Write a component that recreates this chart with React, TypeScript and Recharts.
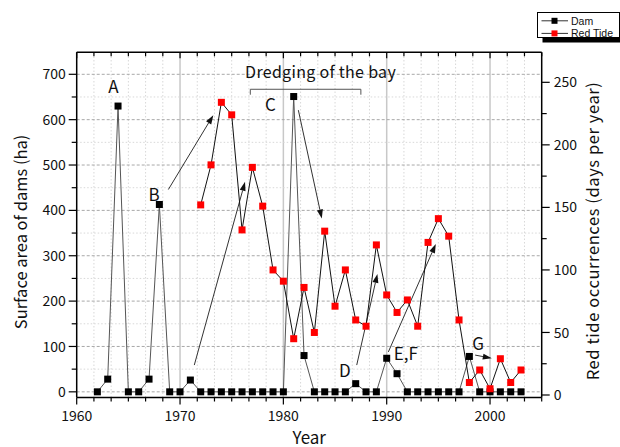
import React from 'react';
import {
  ComposedChart,
  Line,
  XAxis,
  YAxis,
  ReferenceLine,
  ReferenceDot,
  Legend,
  Label,
} from 'recharts';

const FONT = '"Noto Sans CJK JP", "Noto Sans", sans-serif';
const LEGEND_FONT = '"Liberation Sans", Arial, sans-serif';

// ---------- data ----------
const YEARS = [
  1962, 1963, 1964, 1965, 1966, 1967, 1968, 1969, 1970, 1971,
  1972, 1973, 1974, 1975, 1976, 1977, 1978, 1979, 1980, 1981,
  1982, 1983, 1984, 1985, 1986, 1987, 1988, 1989, 1990, 1991,
  1992, 1993, 1994, 1995, 1996, 1997, 1998, 1999, 2000, 2001,
  2002, 2003,
];
const DAM_AREA = [
  0, 28, 630, 0, 0, 28, 413, 0, 0, 26,
  0, 0, 0, 0, 0, 0, 0, 0, 0, 651,
  80, 0, 0, 0, 0, 18, 0, 0, 74, 40,
  0, 0, 0, 0, 0, 0, 78, 0, 0, 0,
  0, 0,
];
const RED_TIDE = [
  null, null, null, null, null, null, null, null, null, null,
  152, 184, 234, 224, 132, 182, 151, 100, 91, 45,
  86, 50, 131, 71, 100, 60, 55, 120, 80, 66,
  76, 55, 122, 141, 127, 60, 10, 20, 5, 29,
  10, 20,
];

const SERIES_NAMES = ['Dam', 'Red Tide'];
const X_LABEL_TICKS = [1960, 1970, 1980, 1990, 2000];
const X_DOMAIN = [1960, 2005];
const X_SUBDIVISIONS = 6; // ticks per decade
const X_ALL_TICKS = Array.from({ length: 28 }, (_, k) => 1960 + (k * 10) / X_SUBDIVISIONS);
const LEFT_TICKS = [0, 50, 100, 150, 200, 250, 300, 350, 400, 450, 500, 550, 600, 650, 700];
const LEFT_DOMAIN = [-12.5, 748.5];
const RIGHT_TICKS = [0, 25, 50, 75, 100, 125, 150, 175, 200, 225, 250];
const RIGHT_DOMAIN = [-2, 274];

// annotations, in (year, left-axis value) units
const NOTE_TEXT = ['A', 'B', 'C', 'D', 'E,F', 'G'];
const NOTE_YEAR = [1963.55, 1967.5, 1978.76, 1985.94, 1991.86, 1998.85];
const NOTE_VALUE = [671, 433, 632, 46, 84, 105];

const ARROW_FROM_YEAR = [1968.87, 1971.38, 1981.45, 1987.1, 1990.16, 1998.56];
const ARROW_FROM_VALUE = [446, 59, 621, 59, 88, 81];
const ARROW_TO_YEAR = [1973.22, 1976.29, 1983.72, 1989.1, 1994.75, 2000.17];
const ARROW_TO_VALUE = [610, 463, 382, 260, 326, 74];

const DREDGING_LABEL = 'Dredging of the bay';
const DREDGING_LABEL_YEAR = 1983.6;
const DREDGING_LABEL_VALUE = 705;
const DREDGING_START = 1976.8;
const DREDGING_END = 1987.5;
const DREDGING_LEVEL = 667;
const DREDGING_TICK_END = 655;

const data = YEARS.map((year, i) => ({ year, dam: DAM_AREA[i], redTide: RED_TIDE[i] }));

const isMajorX = (v: number) => Math.abs(v - Math.round(v / 10) * 10) < 1e-6;

// ---------- custom pieces ----------
const BottomTick = (p: any) => {
  const { x, y, payload } = p;
  const v = payload.value;
  const major = isMajorX(v);
  return (
    <g>
      <line x1={x} x2={x} y1={y} y2={y + (major ? 7 : 4)} stroke="#000" strokeWidth={1.2} />
      {major && X_LABEL_TICKS.includes(Math.round(v)) ? (
        <text x={x} y={y + 23} textAnchor="middle" fontSize={14} fontFamily={FONT} fill="#111">
          {Math.round(v)}
        </text>
      ) : null}
    </g>
  );
};

const TopTick = (p: any) => {
  const { x, y, payload } = p;
  const major = isMajorX(payload.value);
  return <line x1={x} x2={x} y1={y} y2={y + (major ? 6 : 4)} stroke="#000" strokeWidth={1.2} />;
};

const LeftTick = (p: any) => {
  const { x, y, payload } = p;
  const v = payload.value;
  const major = v % 100 === 0;
  return (
    <g>
      <line x1={x} x2={x - (major ? 8 : 5)} y1={y} y2={y} stroke="#000" strokeWidth={1.2} />
      {major ? (
        <text x={x - 11} y={y} dy="0.36em" textAnchor="end" fontSize={14} fontFamily={FONT} fill="#111">
          {v}
        </text>
      ) : null}
    </g>
  );
};

const RightTick = (p: any) => {
  const { x, y, payload } = p;
  const v = payload.value;
  const major = v % 50 === 0;
  return (
    <g>
      <line x1={x} x2={x + (major ? 8 : 5)} y1={y} y2={y} stroke="#000" strokeWidth={1.2} />
      {major ? (
        <text x={x + 12} y={y} dy="0.36em" textAnchor="start" fontSize={14} fontFamily={FONT} fill="#111">
          {v}
        </text>
      ) : null}
    </g>
  );
};

const SquareDot = (fill: string) => (p: any) => {
  const { cx, cy, index } = p;
  if (cx == null || cy == null || p.value == null) return <g key={`e-${index}`} />;
  const s = 7;
  return <rect key={`d-${index}`} x={cx - s / 2} y={cy - s / 2} width={s} height={s} fill={fill} />;
};

const ArrowShape = (p: any) => {
  const { x1, y1, x2, y2 } = p;
  const dx = x2 - x1;
  const dy = y2 - y1;
  const len = Math.hypot(dx, dy) || 1;
  const ux = dx / len;
  const uy = dy / len;
  const hl = 9;
  const hw = 3;
  const bx = x2 - ux * hl;
  const by = y2 - uy * hl;
  return (
    <g>
      <line x1={x1} y1={y1} x2={bx} y2={by} stroke="#333" strokeWidth={1} />
      <polygon
        points={`${x2},${y2} ${bx - uy * hw},${by + ux * hw} ${bx + uy * hw},${by - ux * hw}`}
        fill="#111"
      />
    </g>
  );
};

const LeftTitle = (p: any) => {
  const vb = p.viewBox;
  const cx = vb.x + 4;
  const cy = vb.y + vb.height / 2 + 7;
  return (
    <text
      x={cx}
      y={cy}
      transform={`rotate(-90 ${cx} ${cy})`}
      textAnchor="middle"
      dy="0.36em"
      fontSize={16.5}
      fontFamily={FONT}
      fill="#111"
    >
      Surface area of dams (ha)
    </text>
  );
};

const RightTitle = (p: any) => {
  const vb = p.viewBox;
  const cx = vb.x + 51;
  const cy = vb.y + vb.height / 2 + 6;
  return (
    <text
      x={cx}
      y={cy}
      transform={`rotate(-90 ${cx} ${cy})`}
      textAnchor="middle"
      dy="0.36em"
      fontSize={16.5}
      letterSpacing={0.6}
      fontFamily={FONT}
      fill="#111"
    >
      Red tide occurrences (days per year)
    </text>
  );
};

const BottomTitle = (p: any) => {
  const vb = p.viewBox;
  return (
    <text x={vb.x + vb.width / 2} y={vb.y + 46} textAnchor="middle" fontSize={17} fontFamily={FONT} fill="#111">
      Year
    </text>
  );
};

const LegendBox = (props: any) => {
  const payload = props.payload || [];
  const fills: Record<string, string> = { dam: '#000', redTide: '#ff0000' };
  return (
    <svg width={92} height={34} style={{ display: 'block', overflow: 'visible' }}>
      <rect x={5.5} y={5.5} width={82} height={25} fill="#000" />
      <rect x={0.5} y={0.5} width={82} height={25} fill="#fff" stroke="#000" strokeWidth={1} />
      {payload.map((entry: any, i: number) => {
        const cy = 8.8 + i * 12.6;
        const key = entry.dataKey as string;
        return (
          <g key={entry.value}>
            <line x1={4.5} x2={31} y1={cy} y2={cy} stroke="#333" strokeWidth={1} />
            <rect x={14.5} y={cy - 3} width={6} height={6} fill={fills[key] || '#000'} />
            <text x={34} y={cy} dy="0.36em" fontSize={10.5} fontFamily={LEGEND_FONT} fill="#111">
              {entry.value}
            </text>
          </g>
        );
      })}
    </svg>
  );
};

export default function App() {
  const vGrid = X_ALL_TICKS.filter((v) => v > X_DOMAIN[0] + 1e-6 && v < X_DOMAIN[1] - 1e-6);
  return (
    <div style={{ position: 'absolute', left: 0, top: 0, width: 620, height: 447, background: '#fff' }}>
      <ComposedChart
        width={620}
        height={447}
        data={data}
        margin={{ top: 22.3, right: 18.3, bottom: 19.5, left: 16.7 }}
      >
        <XAxis
          xAxisId="x"
          dataKey="year"
          type="number"
          orientation="bottom"
          domain={X_DOMAIN}
          allowDataOverflow
          ticks={X_ALL_TICKS}
          interval={0}
          height={30}
          tickSize={0}
          tickMargin={0}
          tickLine={false}
          axisLine={{ stroke: '#000', strokeWidth: 1.5 }}
          tick={(p: any) => <BottomTick {...p} />}
        >
          <Label content={(p: any) => <BottomTitle {...p} />} />
        </XAxis>
        <XAxis
          xAxisId="top"
          dataKey="year"
          type="number"
          orientation="top"
          domain={X_DOMAIN}
          allowDataOverflow
          ticks={X_ALL_TICKS}
          interval={0}
          height={30}
          tickSize={0}
          tickMargin={0}
          tickLine={false}
          axisLine={{ stroke: '#000', strokeWidth: 1.5 }}
          tick={(p: any) => <TopTick {...p} />}
        />
        <YAxis
          yAxisId="left"
          orientation="left"
          type="number"
          domain={LEFT_DOMAIN}
          allowDataOverflow
          ticks={LEFT_TICKS}
          interval={0}
          width={60}
          tickSize={0}
          tickMargin={0}
          tickLine={false}
          axisLine={{ stroke: '#000', strokeWidth: 1.5 }}
          tick={(p: any) => <LeftTick {...p} />}
        >
          <Label content={(p: any) => <LeftTitle {...p} />} />
        </YAxis>
        <YAxis
          yAxisId="right"
          orientation="right"
          type="number"
          domain={RIGHT_DOMAIN}
          allowDataOverflow
          ticks={RIGHT_TICKS}
          interval={0}
          width={60}
          tickSize={0}
          tickMargin={0}
          tickLine={false}
          axisLine={{ stroke: '#000', strokeWidth: 1.5 }}
          tick={(p: any) => <RightTick {...p} />}
        >
          <Label content={(p: any) => <RightTitle {...p} />} />
        </YAxis>

        {/* grid */}
        {vGrid.map((v) => (
          <ReferenceLine
            key={`vg-${v}`}
            xAxisId="x"
            yAxisId="left"
            x={v}
            stroke={isMajorX(v) ? '#c8c8c8' : '#d8d8d8'}
            strokeWidth={isMajorX(v) ? 1.5 : 1}
            strokeDasharray={isMajorX(v) ? undefined : '1.5 2'}
          />
        ))}
        {LEFT_TICKS.map((v) => (
          <ReferenceLine
            key={`hg-${v}`}
            xAxisId="x"
            yAxisId="left"
            y={v}
            stroke={v % 100 === 0 ? '#a8a8a8' : '#d8d8d8'}
            strokeWidth={1}
            strokeDasharray={v % 100 === 0 ? '3 2' : '1.5 2'}
          />
        ))}

        {/* dredging bracket */}
        <ReferenceLine
          xAxisId="x"
          yAxisId="left"
          segment={[
            { x: DREDGING_START, y: DREDGING_LEVEL },
            { x: DREDGING_END, y: DREDGING_LEVEL },
          ]}
          stroke="#555"
          strokeWidth={1}
        />
        <ReferenceLine
          xAxisId="x"
          yAxisId="left"
          segment={[
            { x: DREDGING_START, y: DREDGING_LEVEL },
            { x: DREDGING_START, y: DREDGING_TICK_END },
          ]}
          stroke="#555"
          strokeWidth={1}
        />
        <ReferenceLine
          xAxisId="x"
          yAxisId="left"
          segment={[
            { x: DREDGING_END, y: DREDGING_LEVEL },
            { x: DREDGING_END, y: DREDGING_TICK_END },
          ]}
          stroke="#555"
          strokeWidth={1}
        />

        {/* arrows */}
        {ARROW_FROM_YEAR.map((fy, i) => (
          <ReferenceLine
            key={`ar-${i}`}
            xAxisId="x"
            yAxisId="left"
            segment={[
              { x: fy, y: ARROW_FROM_VALUE[i] },
              { x: ARROW_TO_YEAR[i], y: ARROW_TO_VALUE[i] },
            ]}
            shape={(p: any) => <ArrowShape {...p} />}
          />
        ))}

        <Line
          xAxisId="x"
          yAxisId="left"
          dataKey="dam"
          name={SERIES_NAMES[0]}
          stroke="#555"
          strokeWidth={1}
          dot={SquareDot('#000')}
          activeDot={false}
          isAnimationActive={false}
        />
        <Line
          xAxisId="x"
          yAxisId="right"
          dataKey="redTide"
          name={SERIES_NAMES[1]}
          stroke="#111"
          strokeWidth={1}
          dot={SquareDot('#ff0000')}
          activeDot={false}
          connectNulls={false}
          isAnimationActive={false}
        />

        {/* annotation labels */}
        {NOTE_TEXT.map((t, i) => (
          <ReferenceDot
            key={`nt-${i}`}
            xAxisId="x"
            yAxisId="left"
            x={NOTE_YEAR[i]}
            y={NOTE_VALUE[i]}
            r={0}
            fill="none"
            stroke="none"
            label={{ value: t, position: 'center', fontSize: 17, fill: '#111', fontFamily: FONT }}
          />
        ))}
        <ReferenceDot
          xAxisId="x"
          yAxisId="left"
          x={DREDGING_LABEL_YEAR}
          y={DREDGING_LABEL_VALUE}
          r={0}
          fill="none"
          stroke="none"
          label={{
            value: DREDGING_LABEL,
            position: 'center',
            fontSize: 16,
            letterSpacing: 0.3,
            fill: '#111',
            fontFamily: FONT,
          }}
        />

        <Legend
          layout="vertical"
          align="center"
          verticalAlign="middle"
          content={(p: any) => <LegendBox {...p} />}
          wrapperStyle={{ position: 'absolute', left: 536.5, top: 11.5, width: 92, height: 34 }}
        />
      </ComposedChart>
    </div>
  );
}
